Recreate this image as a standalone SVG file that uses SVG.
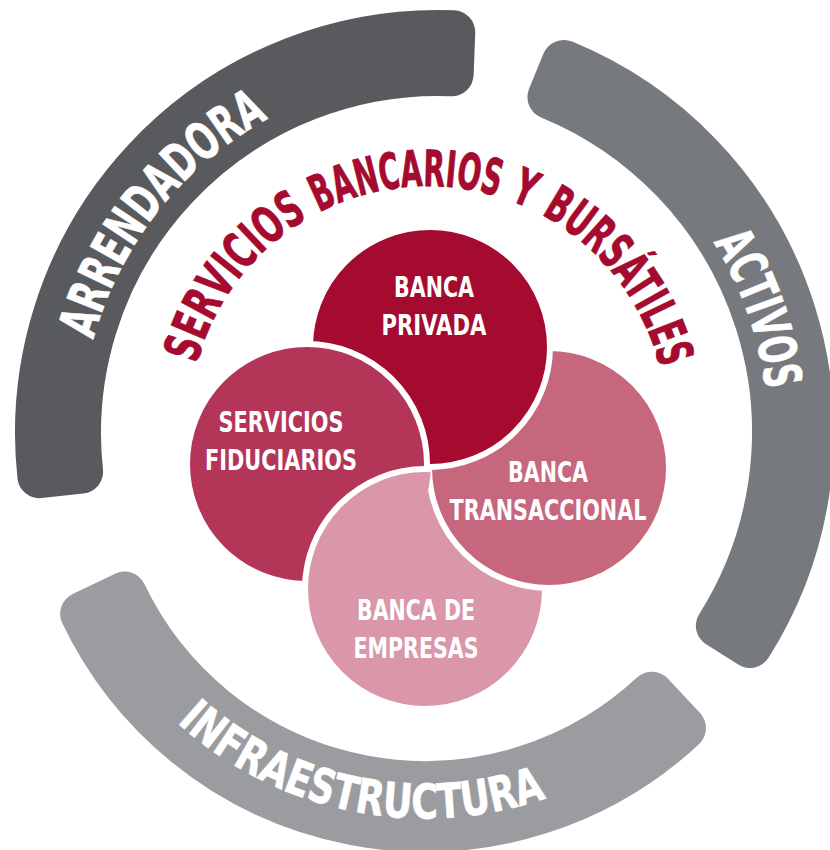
<svg xmlns="http://www.w3.org/2000/svg" xmlns:xlink="http://www.w3.org/1999/xlink" width="830" height="850" viewBox="0 0 830 850">
<style>
.t{font-family:"Liberation Sans Narrow","DejaVu Sans Condensed","Liberation Sans",Arial,sans-serif;font-weight:bold}
.nl{fill:#ffffff;font-size:29px;text-anchor:middle}
.rl{fill:#ffffff;font-size:52px;stroke:#ffffff;stroke-width:0.6}
.ttl{fill:#A50A2F;font-size:50px;stroke:#A50A2F;stroke-width:0.8}
.ring{stroke-width:44;stroke-linejoin:round}
.c{stroke:#ffffff;stroke-width:6}
</style>
<defs>
<path id="pTitle" d="M189,425 A239,239 0 0 1 667,425"/>
<path id="pArr" d="M215.01,714.34 A359,359 0 0 1 660.99,151.66"/>
<path id="pAct" d="M293.16,96.42 A356,356 0 0 1 530.84,767.58"/>
<path id="pInf" d="M63.96,376.22 A368.5,368.5 0 0 0 786.04,523.78"/>
<clipPath id="clipF"><circle cx="307" cy="464" r="124"/></clipPath>
</defs>
<rect width="830" height="850" fill="#ffffff"/>
<g id="ring-arrendadora">
<path class="ring" fill="#585A5E" stroke="#585A5E" d="M39.33,476.17 A401,401 0 0 1 453.25,32.29 L451.66,74.26 A359,359 0 0 0 81.09,471.65 Z"/>
<text class="t rl"><textPath href="#pArr" startOffset="50%" text-anchor="middle" textLength="290" lengthAdjust="spacingAndGlyphs">ARRENDADORA</textPath></text>
</g>
<g id="ring-activos">
<path class="ring" fill="#76797D" stroke="#76797D" d="M563.84,61.94 A400,400 0 0 1 749.96,645.97 L717.85,625.65 A362,362 0 0 0 549.42,97.10 Z"/>
<text class="t rl"><textPath href="#pAct" startOffset="50%" text-anchor="middle" textLength="158" lengthAdjust="spacingAndGlyphs">ACTIVOS</textPath></text>
</g>
<g id="ring-infraestructura">
<path class="ring" fill="#9A9C9F" stroke="#9A9C9F" d="M82.14,613.85 A380,380 0 0 0 683.97,728.09 L651.94,693.70 A333,333 0 0 1 124.54,593.58 Z"/>
<text class="t rl" style="font-size:48px"><textPath href="#pInf" startOffset="50%" text-anchor="middle" textLength="396" lengthAdjust="spacingAndGlyphs">INFRAESTRUCTURA</textPath></text>
</g>
<g id="title">
<text class="t ttl"><textPath href="#pTitle" startOffset="156" text-anchor="middle" textLength="188" lengthAdjust="spacingAndGlyphs">SERVICIOS</textPath></text>
<text class="t ttl"><textPath href="#pTitle" startOffset="354" text-anchor="middle" textLength="184" lengthAdjust="spacingAndGlyphs">BANCARIOS</textPath></text>
<text class="t ttl"><textPath href="#pTitle" startOffset="469" text-anchor="middle" textLength="22" lengthAdjust="spacingAndGlyphs">Y</textPath></text>
<text class="t ttl"><textPath href="#pTitle" startOffset="593" text-anchor="middle" textLength="200" lengthAdjust="spacingAndGlyphs">BURSÁTILES</textPath></text>
</g>
<g id="node-banca-empresas">
<circle id="cE" class="c" cx="425" cy="589" r="120" fill="#D997A9"/>
<text class="t nl" x="416" y="620" textLength="118" lengthAdjust="spacingAndGlyphs">BANCA DE</text>
<text class="t nl" x="416" y="658" textLength="125" lengthAdjust="spacingAndGlyphs">EMPRESAS</text>
</g>
<g id="node-banca-transaccional">
<circle class="c" cx="549" cy="468" r="120" fill="#C6677E"/>
<text class="t nl" x="548" y="482" textLength="80" lengthAdjust="spacingAndGlyphs">BANCA</text>
<text class="t nl" x="548" y="520" textLength="197" lengthAdjust="spacingAndGlyphs">TRANSACCIONAL</text>
</g>
<g id="node-banca-privada">
<circle class="c" cx="430" cy="347" r="120" fill="#A50A2F"/>
<text class="t nl" x="434" y="297" textLength="80" lengthAdjust="spacingAndGlyphs">BANCA</text>
<text class="t nl" x="434" y="335" textLength="105" lengthAdjust="spacingAndGlyphs">PRIVADA</text>
</g>
<g id="node-servicios-fiduciarios">
<circle class="c" cx="307" cy="464" r="120" fill="#B33558"/>
<text class="t nl" x="281" y="432" textLength="125" lengthAdjust="spacingAndGlyphs">SERVICIOS</text>
<text class="t nl" x="281" y="470" textLength="152" lengthAdjust="spacingAndGlyphs">FIDUCIARIOS</text>
</g>
<g id="overlap-empresas-over-fiduciarios">
<use href="#cE" clip-path="url(#clipF)"/>
</g>
<g id="connectors"/>
</svg>
